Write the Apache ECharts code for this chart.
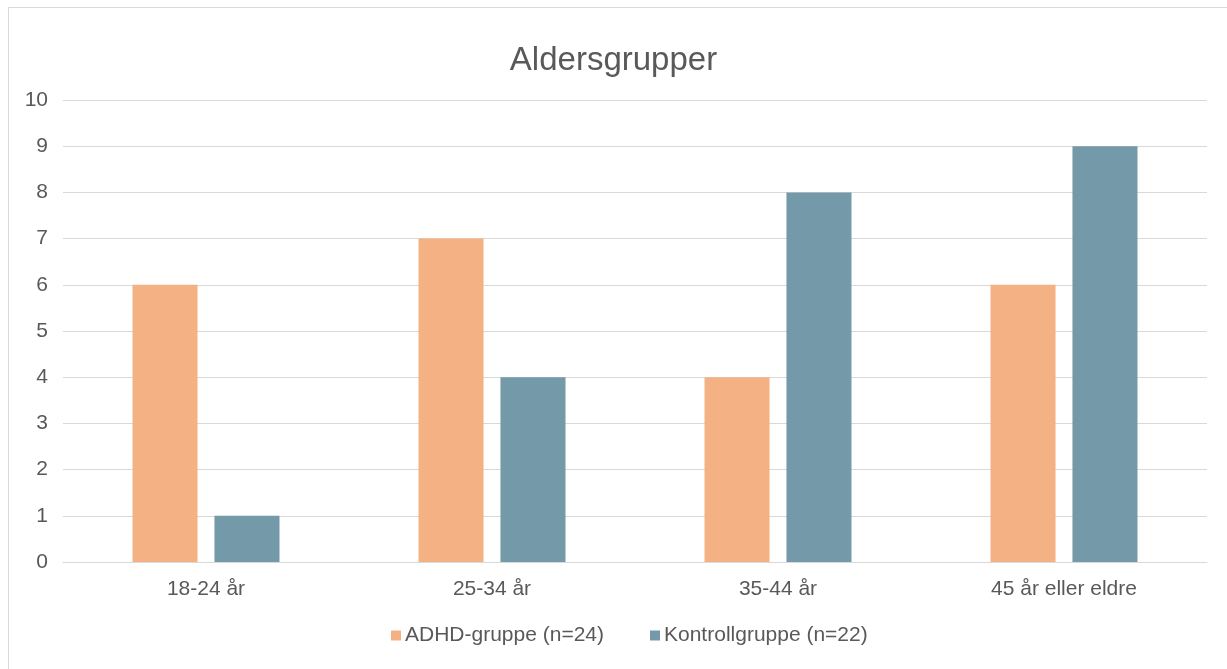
<!DOCTYPE html>
<html>
<head>
<meta charset="utf-8">
<script src="https://cdn.jsdelivr.net/npm/echarts@6/dist/echarts.min.js"></script>
<style>
  html, body { margin: 0; padding: 0; background: #ffffff; }
  #frame { position: absolute; left: 8px; top: 7px; width: 1240px; height: 700px;
           border: 1px solid #d9d9d9; box-sizing: border-box; }
  #chart { position: absolute; left: 0; top: 0; width: 1227px; height: 669px; }
</style>
</head>
<body>
<div id="frame"></div>
<div id="chart"></div>
<script>
// Age groups and respondent counts per group
const categories = ['18-24 år', '25-34 år', '35-44 år', '45 år eller eldre'];
const adhdValues = [6, 7, 4, 6];
const kontrollValues = [1, 4, 8, 9];
const seriesNames = ['ADHD-gruppe (n=24)', 'Kontrollgruppe (n=22)'];
const yTicks = { min: 0, max: 10, interval: 1 };

const textColor = '#595959';
const font = 'Liberation Sans, Arial, sans-serif';

const chart = echarts.init(document.getElementById('chart'), null, { renderer: 'canvas' });
chart.setOption({
  animation: false,
  title: {
    text: 'Aldersgrupper',
    left: 'center',
    top: 39,
    textStyle: { color: textColor, fontSize: 33, fontWeight: 'normal', fontFamily: font }
  },
  legend: {
    data: seriesNames,
    bottom: 18,
    left: 386,
    itemWidth: 10,
    itemHeight: 10,
    itemGap: 46,
    icon: 'rect',
    textStyle: { color: textColor, fontSize: 21, fontFamily: font, padding: [0, 0, 0, -1] }
  },
  grid: { left: 63, right: 20, top: 100, bottom: 107, containLabel: false },
  xAxis: {
    type: 'category',
    data: categories,
    axisLine: { show: true, lineStyle: { color: '#d9d9d9', width: 1 } },
    axisTick: { show: false },
    axisLabel: { color: textColor, fontSize: 21, fontFamily: font, margin: 17 }
  },
  yAxis: {
    type: 'value',
    min: yTicks.min,
    max: yTicks.max,
    interval: yTicks.interval,
    axisLine: { show: false },
    axisTick: { show: false },
    axisLabel: { color: textColor, fontSize: 21, fontFamily: font, margin: 15 },
    splitLine: { lineStyle: { color: '#d9d9d9', width: 1 } }
  },
  series: [
    {
      name: seriesNames[0],
      type: 'bar',
      data: adhdValues,
      barGap: '26%',
      barCategoryGap: '48.6%',
      itemStyle: { color: '#F4B183' }
    },
    {
      name: seriesNames[1],
      type: 'bar',
      data: kontrollValues,
      itemStyle: { color: '#7499A8' }
    }
  ]
});
</script>
</body>
</html>
